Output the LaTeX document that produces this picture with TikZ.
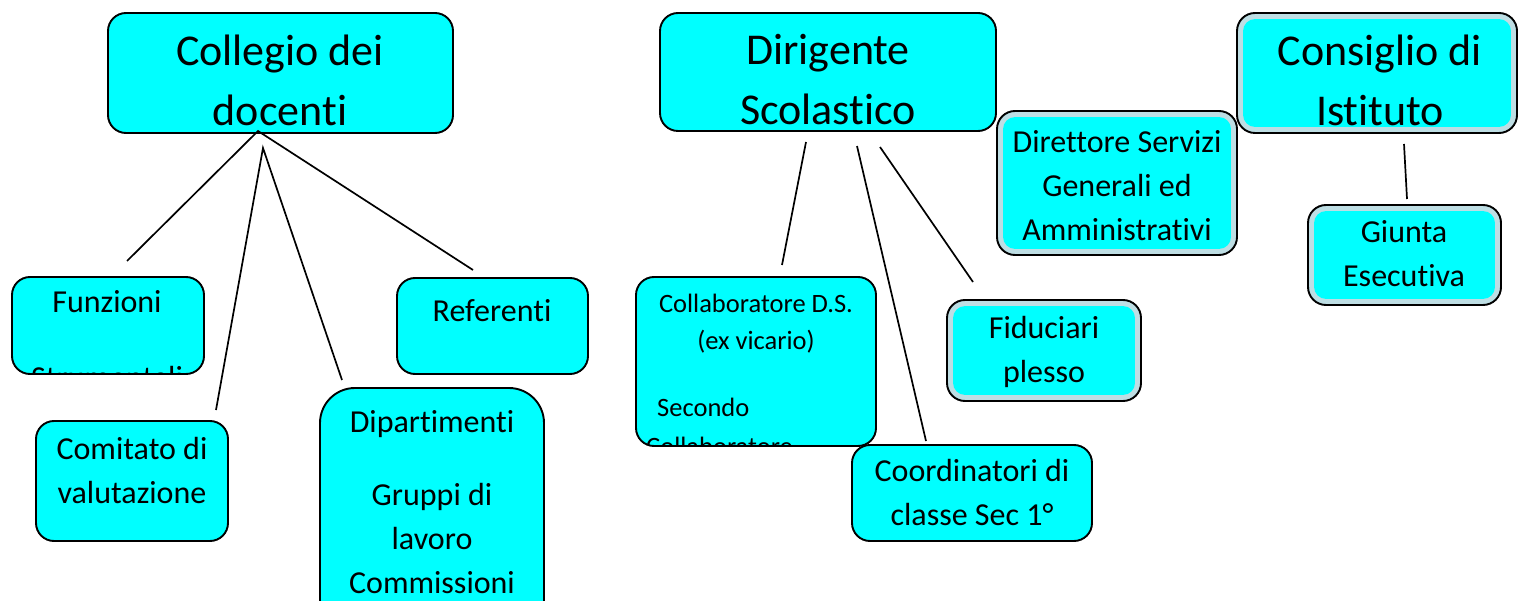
\documentclass[tikz,border=0pt]{standalone}
\usepackage{fontspec}
\setmainfont{Carlito}[Ligatures=NoCommon]
\usetikzlibrary{fit}
\definecolor{cyanc}{RGB}{0,255,255}
\definecolor{bandc}{RGB}{190,222,228}
\tikzset{
  box/.style={draw=black, line width=1.9pt, fill=cyanc, rounded corners=18pt, inner sep=0pt},
  gbox/.style={box, fill=bandc},
  conn/.style={line width=1.7pt, black},
  big/.style={font=\fontsize{44}{60}\selectfont, align=center, inner sep=0pt},
  mid/.style={font=\fontsize{32}{44}\selectfont, align=center, inner sep=0pt},
  sml/.style={font=\fontsize{26.5}{37}\selectfont, align=center, inner sep=0pt},
}
\newcommand{\innerfill}[1]{\fill[cyanc, rounded corners=12pt] ([shift={(7,7)}]#1.north west) rectangle ([shift={(-7,-7)}]#1.south east);}
\begin{document}
\begin{tikzpicture}[x=1pt,y=-1pt]
\useasboundingbox (0,0) rectangle (1522,601);
\clip (0,0) rectangle (1522,601);
% boxes
\node[box, fit={(108,13)(453,133)}] (collegio) {};
\node[box, fit={(660,13)(996,131)}] (dirigente) {};
\node[gbox, fit={(1237,13)(1517,133)}] (consiglio) {};
\innerfill{consiglio}
\node[gbox, fit={(997,111)(1237,255)}] (direttore) {};
\innerfill{direttore}
\node[gbox, fit={(1308,205)(1501,305)}] (giunta) {};
\innerfill{giunta}
\node[gbox, fit={(947,300)(1141,401)}] (fiduciari) {};
\innerfill{fiduciari}
\node[box, fit={(852,445)(1092,541)}] (coord) {};
\node[box, fit={(636,277)(876,446)}] (collab) {};
\node[box, fit={(12,277)(204,374)}] (funz) {};
\node[box, fit={(397,278)(588,374)}] (refer) {};
\node[box, fit={(36,421)(228,541)}] (comitato) {};
\node[box, rounded corners=35pt, fit={(320,388)(544,640)}] (dipart) {};
% texts
\node[big] (collegio-t) at (280,80) {Collegio dei\\docenti};
\node[big] (dirigente-t) at (828,80) {Dirigente\\Scolastico};
\node[big] (consiglio-t) at (1380,80) {Consiglio di\\Istituto};
\node[mid] (direttore-t) at (1117,186) {Direttore Servizi\\Generali ed\\Amministrativi};
\node[mid] (giunta-t) at (1404,254) {Giunta\\Esecutiva};
\node[mid] (fiduciari-t) at (1044,352) {Fiduciari\\plesso};
\node[mid] (coord-t) at (972,493) {Coordinatori di\\classe Sec 1°};
\node[mid] (refer-t) at (492,311) {Referenti};
\node[mid] (comitato-t) at (132,471) {Comitato di\\valutazione};
\node[mid] (dipart-t) at (432,502) {Dipartimenti\\[29pt]Gruppi di\\lavoro\\Commissioni};
\begin{scope}
  \clip[rounded corners=17pt] (13,278) rectangle (203,373);
  \node[mid, anchor=north] (funz-t) at (107,290) {Funzioni\\[32pt]Strumentali};
\end{scope}
\begin{scope}
  \clip[rounded corners=17pt] (637,278) rectangle (875,445);
  \node[sml] (collab-t) at (756,324) {Collaboratore D.S.\\(ex vicario)};
  \node[sml, anchor=west] (secondo-t) at (657,407) {Secondo};
  \node[sml, anchor=west] (collab2-t) at (646,446) {Collaboratore};
\end{scope}
% connector end points
\coordinate (a0) at (258,131);
\coordinate (a1) at (263,148);
\coordinate (afunz) at (127,261);
\coordinate (acomit) at (216,410);
\coordinate (adip) at (342,380);
\coordinate (aref) at (473,270);
\coordinate (b1) at (806,142);
\coordinate (b2) at (857,146);
\coordinate (b3) at (880,147);
\coordinate (bcol) at (782,265);
\coordinate (bcoord) at (926,441);
\coordinate (bfid) at (973,282);
\coordinate (c1) at (1404,144);
\coordinate (cgiu) at (1407,199);
\draw[conn] (afunz) -- (a0) -- (aref);
\draw[conn] (acomit) -- (a1) -- (adip);
\draw[conn] (b1) -- (bcol);
\draw[conn] (b2) -- (bcoord);
\draw[conn] (b3) -- (bfid);
\draw[conn] (c1) -- (cgiu);
\end{tikzpicture}
\end{document}
